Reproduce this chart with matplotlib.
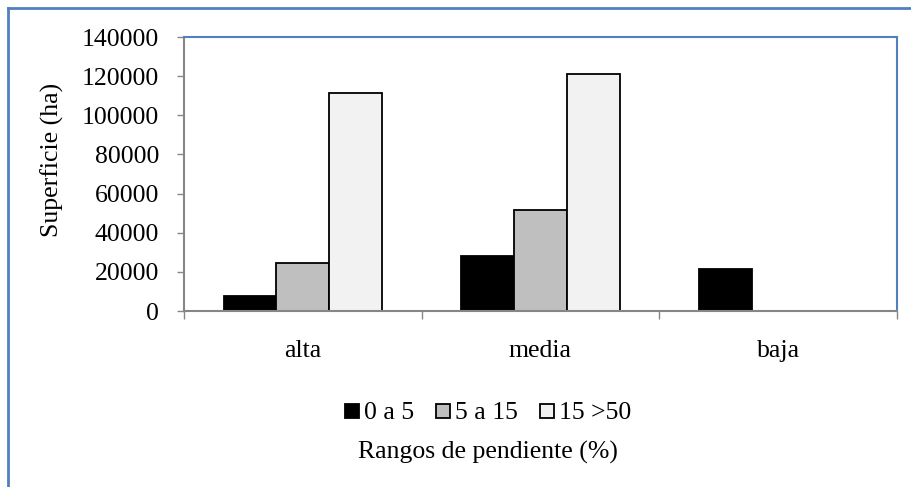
import matplotlib
matplotlib.use("Agg")
import matplotlib.pyplot as plt
import numpy as np
from matplotlib.lines import Line2D

categories = ["alta", "media", "baja"]
series_names = ["0 a 5", "5 a 15", "15 >50"]
s0 = [7800, 28300, 21300]
s1 = [24600, 51500, 0]
s2 = [111600, 121000, 0]
series = [s0, s1, s2]
colors = ["#000000", "#BFBFBF", "#F2F2F2"]
yticks = [0, 20000, 40000, 60000, 80000, 100000, 120000, 140000]

plt.rcParams['font.family'] = ['Liberation Serif', 'DejaVu Serif']
FS = 18.5

fig = plt.figure(figsize=(9.12, 4.87), dpi=100)
ax = fig.add_axes([184/912, 1-311/487, (897-184)/912, (311-37)/487])

x = np.arange(len(categories))
bw = 1/4.5
for i, (vals, c) in enumerate(zip(series, colors)):
    ax.bar(x + (i-1)*bw, vals, width=bw, color=c, edgecolor="black", linewidth=1.3, zorder=3)

ax.set_xlim(-0.5, 2.5)
ax.set_ylim(0, 140000)
ax.set_yticks(yticks)
ax.set_yticklabels([str(v) for v in yticks], fontsize=FS)
ax.tick_params(axis='y', length=5, width=1, color="#868686", pad=13, direction='out')
ax.set_xticks(x)
ax.set_xticklabels(categories, fontsize=FS)
ax.tick_params(axis='x', length=0, pad=21)
ax.set_xticks([-0.5, 0.5, 1.5, 2.5], minor=True)
ax.tick_params(axis='x', which='minor', length=6, width=1, color="#868686")

for s in ['left', 'bottom']:
    ax.spines[s].set_color("#868686")
    ax.spines[s].set_linewidth(1.5)
for s in ['top', 'right']:
    ax.spines[s].set_color("#4F81BD")
    ax.spines[s].set_linewidth(1.5)
ax.spines['bottom'].set_zorder(5)

fig.text(52/912, 1-160/487, "Superficie (ha)", rotation=90, fontsize=FS, ha='center', va='center')

handles = [Line2D([], [], marker='s', linestyle='none', markersize=10,
                  markerfacecolor=c, markeredgecolor='black', markeredgewidth=1.3) for c in colors]
fig.legend(handles, series_names, loc='center', bbox_to_anchor=(488/912, 1-413/487),
           ncol=3, frameon=False, fontsize=FS, handletextpad=0.2, columnspacing=0.85,
           handlelength=0.55)

fig.text(488/912, 1-452/487, "Rangos de pendiente (%)", fontsize=FS, ha='center', va='center')

border = "#4F81BD"
fig.add_artist(Line2D([8/912, 8/912], [0, 1-8/487], color=border, linewidth=2.0, transform=fig.transFigure))
fig.add_artist(Line2D([8/912, 1], [1-8/487, 1-8/487], color=border, linewidth=2.0, transform=fig.transFigure))

fig.savefig("out.png", dpi=100)
